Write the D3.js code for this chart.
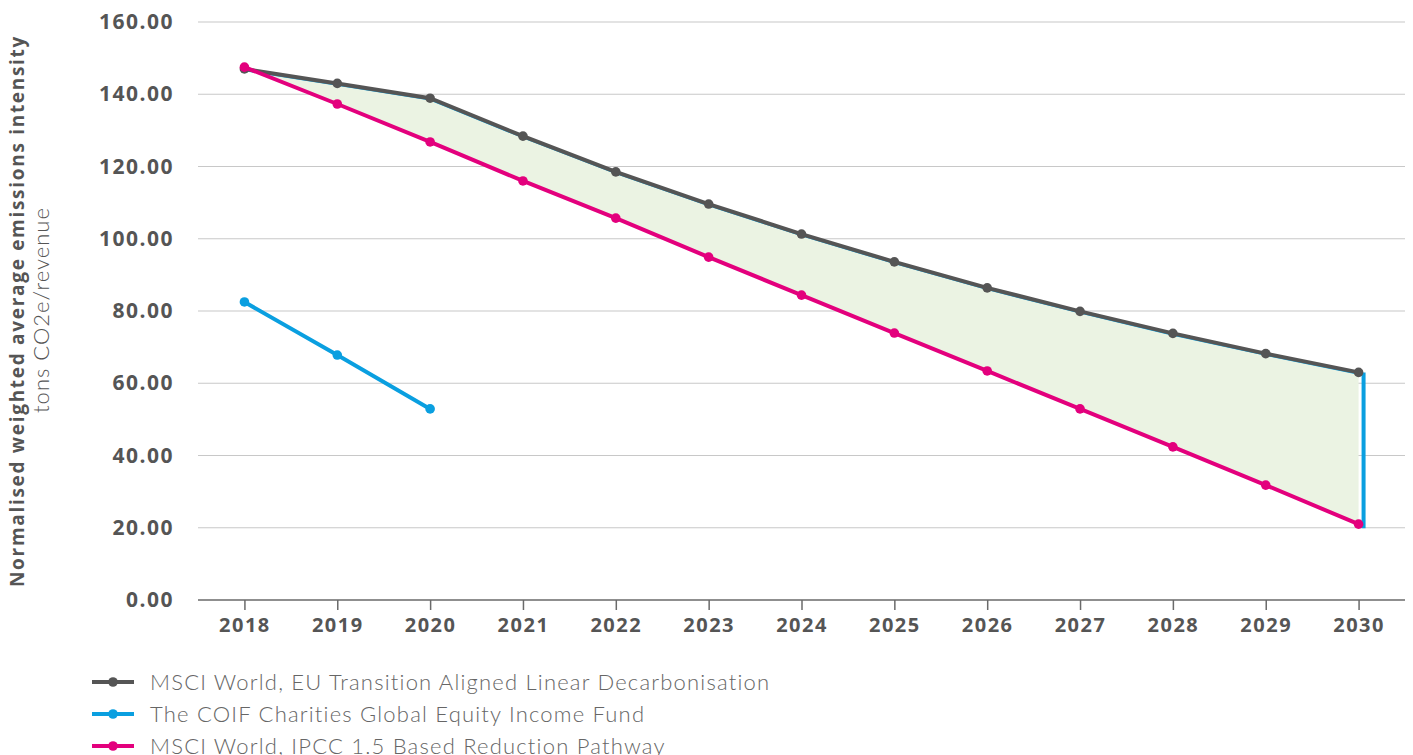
<!DOCTYPE html>
<html>
<head>
<meta charset="utf-8">
<script src="https://cdn.jsdelivr.net/npm/d3@7"></script>
<style>
  body { margin: 0; background: #fff; }
  svg text { fill: #555; }
</style>
</head>
<body>
<div id="chart"></div>
<script>
// chart data
var years = ["2018", "2019", "2020", "2021", "2022", "2023", "2024", "2025", "2026", "2027", "2028", "2029", "2030"];
var euLinear = [147.0, 143.0, 138.9, 128.4, 118.5, 109.6, 101.3, 93.6, 86.4, 79.9, 73.8, 68.2, 63.0];
var coifFund = [82.5, 67.8, 52.9];
var ipccPath = [147.5, 137.3, 126.8, 116.0, 105.7, 94.9, 84.4, 73.9, 63.4, 52.9, 42.4, 31.8, 21.0];
var yTicks = [0, 20, 40, 60, 80, 100, 120, 140, 160];
var seriesNames = ["MSCI World, EU Transition Aligned Linear Decarbonisation",
                   "The COIF Charities Global Equity Income Fund",
                   "MSCI World, IPCC 1.5 Based Reduction Pathway"];

var width = 1413, height = 755;
var plotL = 198, plotR = 1405, plotT = 22, plotB = 600;
var grey = "#555555", blue = "#0a9fe0", pink = "#e3007d";

var svg = d3.select("#chart").append("svg")
    .attr("width", width)
    .attr("height", height);

var x = d3.scalePoint().domain(years).range([plotL, plotR]).padding(0.5);
var y = d3.scaleLinear().domain([0, 160]).range([plotB, plotT]);

// gridlines
svg.append("g").selectAll("line")
    .data(yTicks.slice(1))
    .enter().append("line")
    .attr("x1", plotL).attr("x2", plotR)
    .attr("y1", d => y(d)).attr("y2", d => y(d))
    .attr("stroke", "#c8c8c8").attr("stroke-width", 1.2);

// y labels
svg.append("g").selectAll("text")
    .data(yTicks)
    .enter().append("text")
    .attr("x", 174).attr("y", d => y(d) + 7)
    .attr("text-anchor", "end")
    .style("font-family", "'Open Sans', sans-serif")
    .style("font-weight", 700)
    .style("font-size", "21px")
    .style("letter-spacing", "1.5px")
    .text(d => d.toFixed(2));

// x axis
var xAxis = svg.append("g")
    .attr("transform", "translate(0," + plotB + ")")
    .call(d3.axisBottom(x).tickSize(10).tickSizeOuter(0).tickPadding(8));
xAxis.select(".domain").attr("stroke", "#6a6a6a").attr("stroke-width", 1.5).attr("d", "M" + plotL + ",0H" + plotR);
xAxis.selectAll(".tick line").attr("stroke", "#6a6a6a").attr("stroke-width", 1.5);
xAxis.selectAll(".tick text")
    .style("font-family", "'Open Sans', sans-serif")
    .style("font-weight", 700)
    .style("font-size", "20px")
    .style("letter-spacing", "1.5px")
    .attr("fill", "#555");

// shaded gap between the two pathways
var gap = years.map((yr, i) => ({ yr: yr, hi: euLinear[i], lo: ipccPath[i] }));
var area = d3.area()
    .x(d => x(d.yr))
    .y0(d => y(d.lo))
    .y1(d => y(d.hi));
svg.append("path")
    .datum(gap)
    .attr("d", area)
    .attr("fill", "#ebf3e3");

// thin blue edge along the top of the area and right side
var edge = d3.line().x(d => x(d.yr)).y(d => y(d.hi) + 1.5);
svg.append("path")
    .datum(gap)
    .attr("d", edge)
    .attr("fill", "none")
    .attr("stroke", blue)
    .attr("stroke-width", 1.5);
var lastX = x(years[years.length - 1]) + 5;
svg.append("line")
    .attr("x1", lastX).attr("x2", lastX)
    .attr("y1", y(euLinear[euLinear.length - 1])).attr("y2", y(ipccPath[ipccPath.length - 1]) + 4)
    .attr("stroke", blue).attr("stroke-width", 4);

function drawSeries(vals, color) {
    var pts = vals.map((v, i) => ({ yr: years[i], v: v }));
    var line = d3.line().x(d => x(d.yr)).y(d => y(d.v));
    svg.append("path")
        .datum(pts)
        .attr("d", line)
        .attr("fill", "none")
        .attr("stroke", color)
        .attr("stroke-width", 4);
    svg.append("g").selectAll("circle")
        .data(pts)
        .enter().append("circle")
        .attr("cx", d => x(d.yr))
        .attr("cy", d => y(d.v))
        .attr("r", 4.8)
        .attr("fill", color);
}

drawSeries(euLinear, grey);
drawSeries(coifFund, blue);
drawSeries(ipccPath, pink);

// axis titles
svg.append("text")
    .attr("transform", "translate(24," + 311 + ") rotate(-90)")
    .attr("text-anchor", "middle")
    .style("font-family", "'Open Sans', sans-serif")
    .style("font-weight", 700)
    .style("font-size", "19px")
    .style("letter-spacing", "1.7px")
    .text("Normalised weighted average emissions intensity");
svg.append("text")
    .attr("transform", "translate(49," + 310 + ") rotate(-90)")
    .attr("text-anchor", "middle")
    .style("font-family", "Lato, sans-serif")
    .style("font-weight", 300)
    .style("font-size", "22px")
    .style("letter-spacing", "1px")
    .text("tons CO2e/revenue");

// legend
var legendColors = [grey, blue, pink];
var legend = svg.append("g").selectAll("g")
    .data(seriesNames)
    .enter().append("g")
    .attr("transform", (d, i) => "translate(92," + (682 + i * 32) + ")");
legend.append("line")
    .attr("x1", 0).attr("x2", 42)
    .attr("stroke", (d, i) => legendColors[i])
    .attr("stroke-width", 4);
legend.append("circle")
    .attr("cx", 21).attr("r", 4.8)
    .attr("fill", (d, i) => legendColors[i]);
legend.append("text")
    .attr("x", 58).attr("y", 8)
    .style("font-family", "Lato, sans-serif")
    .style("font-weight", 300)
    .style("font-size", "22px")
    .style("letter-spacing", "1.2px")
    .style("fill", "#666")
    .text(d => d);
</script>
</body>
</html>
